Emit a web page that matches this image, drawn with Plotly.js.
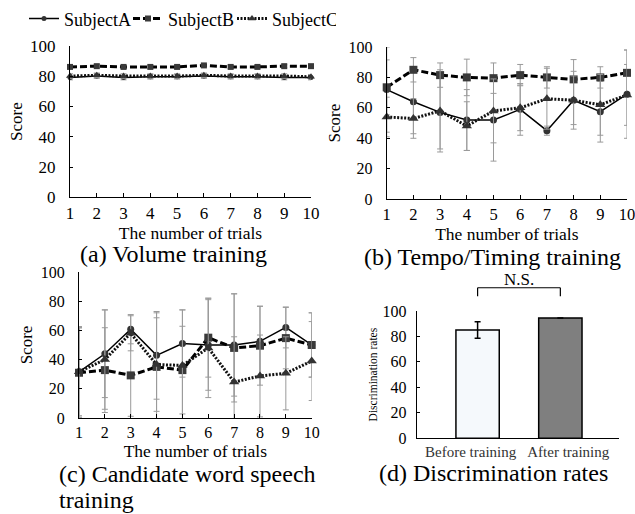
<!DOCTYPE html>
<html>
<head>
<meta charset="utf-8">
<script src="https://cdn.plot.ly/plotly-3.0.1.min.js"></script>
<style>html,body{margin:0;padding:0;background:#fff;}#chart{width:635px;height:514px;}</style>
</head>
<body>
<div id="chart"></div>
<script>
// ---- data ----
const trials = [1,2,3,4,5,6,7,8,9,10];
const subjects = ["SubjectA","SubjectB","SubjectC"];

// (a) Volume training
const volA = [79,80,79,79.5,79.5,80,79.5,79.5,79,79];
const volB = [86,86.5,86,86,86,87,86,86,86.5,86.5];
const volC = [80,80.5,80,80,80,80.5,80,80,80,79.5];
const volErrA = [1.5,1.5,1.5,1.5,1.5,1.5,1.5,1.5,1.5,1.5];
const volErrB = [1,1,1,1,1,1,1,1,1,1];
const volErrC = [1.5,1.5,1.5,1.5,1.5,1.5,1.5,1.5,1.5,1.5];

// (b) Tempo/Timing training
const tempoA = [72,64,57,52,52,59,45,65,57.5,69];
const tempoB = [73.5,85,81.5,80,79.5,81.5,80,78.7,80,83];
const tempoC = [54,53,58,48,58,60,66,65,62,68.5];
const tempoErrA = [28,21,24,20,27,17,3,19,20,29];
const tempoErrB = [18,8,8,12,10,7,7,13,7,15];
const tempoErrC = [13,13,27,16,21,15,20,16,20,20];

// (c) Candidate word speech training
const wordA = [31.6,44,60.8,42.9,51,50,50,52.5,62,50];
const wordB = [31,32.8,29.2,35,32.8,55,48,49.5,54.7,50];
const wordC = [31.6,40,58,36.6,36,48,24.6,28.8,30.6,39];
const wordErrA = [30,30,10,30,23,31,35,24,14,22];
const wordErrB = [31,29,28,37,30,27,37,27,21,22];
const wordErrC = [31,34,12,32,38,34,31,28,25,27];

// (d) Discrimination rates
const discCats = ["Before training","After training"];
const discVals = [85,94.5];
const discErr = [6.5,0];

// ---- styles ----
const FONT = "'Liberation Serif', 'Times New Roman', serif";
const styles = [
  {line:{color:"#000",width:1.5,dash:"solid"}, marker:{symbol:"circle",size:7,color:"#333"}},
  {line:{color:"#000",width:3,dash:"7px,3px"}, marker:{symbol:"square",size:8,color:"#3a3a3a"}},
  {line:{color:"#111",width:3,dash:"2px,1.5px"}, marker:{symbol:"triangle-up",size:9,color:"#333"}}
];
const errStyle = (arr)=>({type:"data",array:arr,visible:true,color:"#9a9a9a",thickness:1,width:3});

function series(xa, ya, vals, errs, showLeg, msize){
  return vals.map((v,i)=>({
    type:"scatter", mode:"lines+markers", x:trials, y:v,
    xaxis:xa, yaxis:ya, name:subjects[i], legendgroup:subjects[i], showlegend:showLeg,
    line:styles[i].line,
    marker:Object.assign({}, styles[i].marker, msize?{size:styles[i].marker.size-2}:{}),
    error_y:errStyle(errs[i]), cliponaxis:false
  }));
}

// bar geometry (style): width and per-bar offset in category units
const barWidth = 0.444;
const barOffset = [-0.151, -0.303];

const data = [].concat(
  series("x","y",[volA,volB,volC],[volErrA,volErrB,volErrC],true,true),
  series("x2","y2",[tempoA,tempoB,tempoC],[tempoErrA,tempoErrB,tempoErrC],false,false),
  series("x3","y3",[wordA,wordB,wordC],[wordErrA,wordErrB,wordErrC],false,false),
  [{type:"bar", x:discCats, y:discVals, xaxis:"x4", yaxis:"y4", showlegend:false,
    width:barWidth, offset:barOffset,
    marker:{color:["#f5f9fc","#7f7f7f"], line:{color:"#000",width:1.5}},
    error_y:{type:"data",array:discErr,visible:true,color:"#000",thickness:1.5,width:3}}]
);

const W=635,H=514;
const px=(a,b)=>[a/W,b/W];
const py=(top,bottom)=>[1-bottom/H,1-top/H];

function xAx(dom, anchor, tsize, standoff){
  return {domain:dom, anchor:anchor, range:[1,10], dtick:1, tick0:1, showline:true, linecolor:"#000", linewidth:1,
    ticks:"inside", ticklen:4, tickcolor:"#000", showgrid:false, zeroline:false, ticklabeloverflow:"allow",
    tickfont:{family:FONT,size:tsize||17,color:"#000"},
    title:{text:"The number of trials", font:{family:FONT,size:17.5,color:"#000"}, standoff:(standoff==null?2:standoff)}};
}
function yAx(dom, anchor, size){
  return {domain:dom, anchor:anchor, range:[0,100], dtick:20, showline:true, linecolor:"#000", linewidth:1,
    ticks:"inside", ticklen:3, tickcolor:"#000", showgrid:false, zeroline:false, ticklabelstandoff:10,
    tickfont:{family:FONT,size:size||17,color:"#000"},
    title:{text:"Score", font:{family:FONT,size:17,color:"#000"}, standoff:3}};
}

// bracket ends sit at the bar centres
const bx0 = 0 + barOffset[0] + barWidth/2;
const bx1 = 1 + barOffset[1] + barWidth/2;

const layout = {
  width:W, height:H, margin:{l:0,r:0,t:0,b:0},
  paper_bgcolor:"#fff", plot_bgcolor:"#fff",
  font:{family:FONT,color:"#000"},
  showlegend:true,
  legend:{orientation:"h", x:24/W, xanchor:"left", y:1-15/H, yanchor:"middle",
    entrywidth:59, entrywidthmode:"pixels",
    font:{family:FONT,size:18,color:"#000"}, bgcolor:"rgba(0,0,0,0)", tracegroupgap:0},
  xaxis: xAx(px(70,311),"y"),
  yaxis: yAx(py(42,195),"x"),
  xaxis2: xAx(px(386.7,627),"y2",16.5,0),
  yaxis2: yAx(py(43.3,196.7),"x2",16),
  xaxis3: xAx(px(79,311.7),"y3",16,0),
  yaxis3: yAx(py(270,417.3),"x3",16),
  xaxis4: {domain:px(416.7,619.3), anchor:"y4", type:"category", range:[-0.553,1.523], tickangle:0,
    showline:true, linecolor:"#000", linewidth:1, ticks:"", showgrid:false, zeroline:false,
    tickfont:{family:FONT,size:15,color:"#333"}},
  yaxis4: {domain:py(309.3,437.7), anchor:"x4", range:[0,100], dtick:20, showline:true, linecolor:"#000", linewidth:1,
    ticks:"inside", ticklen:3, tickcolor:"#000", showgrid:false, zeroline:false, ticklabelstandoff:6,
    tickfont:{family:FONT,size:16,color:"#000"},
    title:{text:"Discrimination rates", font:{family:FONT,size:11.5,color:"#000"}, standoff:2}},
  shapes:[
    {type:"line", xref:"x4", yref:"paper", x0:bx0, x1:bx1, y0:1-286/H, y1:1-286/H, line:{color:"#000",width:1.2}},
    {type:"line", xref:"x4", yref:"paper", x0:bx0, x1:bx0, y0:1-286/H, y1:1-294.5/H, line:{color:"#000",width:1.2}},
    {type:"line", xref:"x4", yref:"paper", x0:bx1, x1:bx1, y0:1-286/H, y1:1-294.5/H, line:{color:"#000",width:1.2}}
  ],
  annotations:[
    {text:"(a) Volume training", xref:"paper", yref:"paper", x:173/W, y:1-252/H, xanchor:"center", yanchor:"middle", showarrow:false, font:{family:FONT,size:24,color:"#000"}},
    {text:"(b) Tempo/Timing training", xref:"paper", yref:"paper", x:492/W, y:1-255/H, xanchor:"center", yanchor:"middle", showarrow:false, font:{family:FONT,size:24,color:"#000"}},
    {text:"(c) Candidate word speech", xref:"paper", yref:"paper", x:57/W, y:1-474/H, xanchor:"left", yanchor:"middle", align:"left", showarrow:false, font:{family:FONT,size:24,color:"#000"}},
    {text:"training", xref:"paper", yref:"paper", x:57/W, y:1-500/H, xanchor:"left", yanchor:"middle", align:"left", showarrow:false, font:{family:FONT,size:24,color:"#000"}},
    {text:"(d) Discrimination rates", xref:"paper", yref:"paper", x:493/W, y:1-473/H, xanchor:"center", yanchor:"middle", showarrow:false, font:{family:FONT,size:24,color:"#000"}},
    {text:"N.S.", xref:"paper", yref:"paper", x:519/W, y:1-278/H, xanchor:"center", yanchor:"middle", showarrow:false, font:{family:FONT,size:17,color:"#000"}}
  ]
};

Plotly.newPlot("chart", data, layout, {staticPlot:true, displayModeBar:false});
</script>
</body>
</html>
